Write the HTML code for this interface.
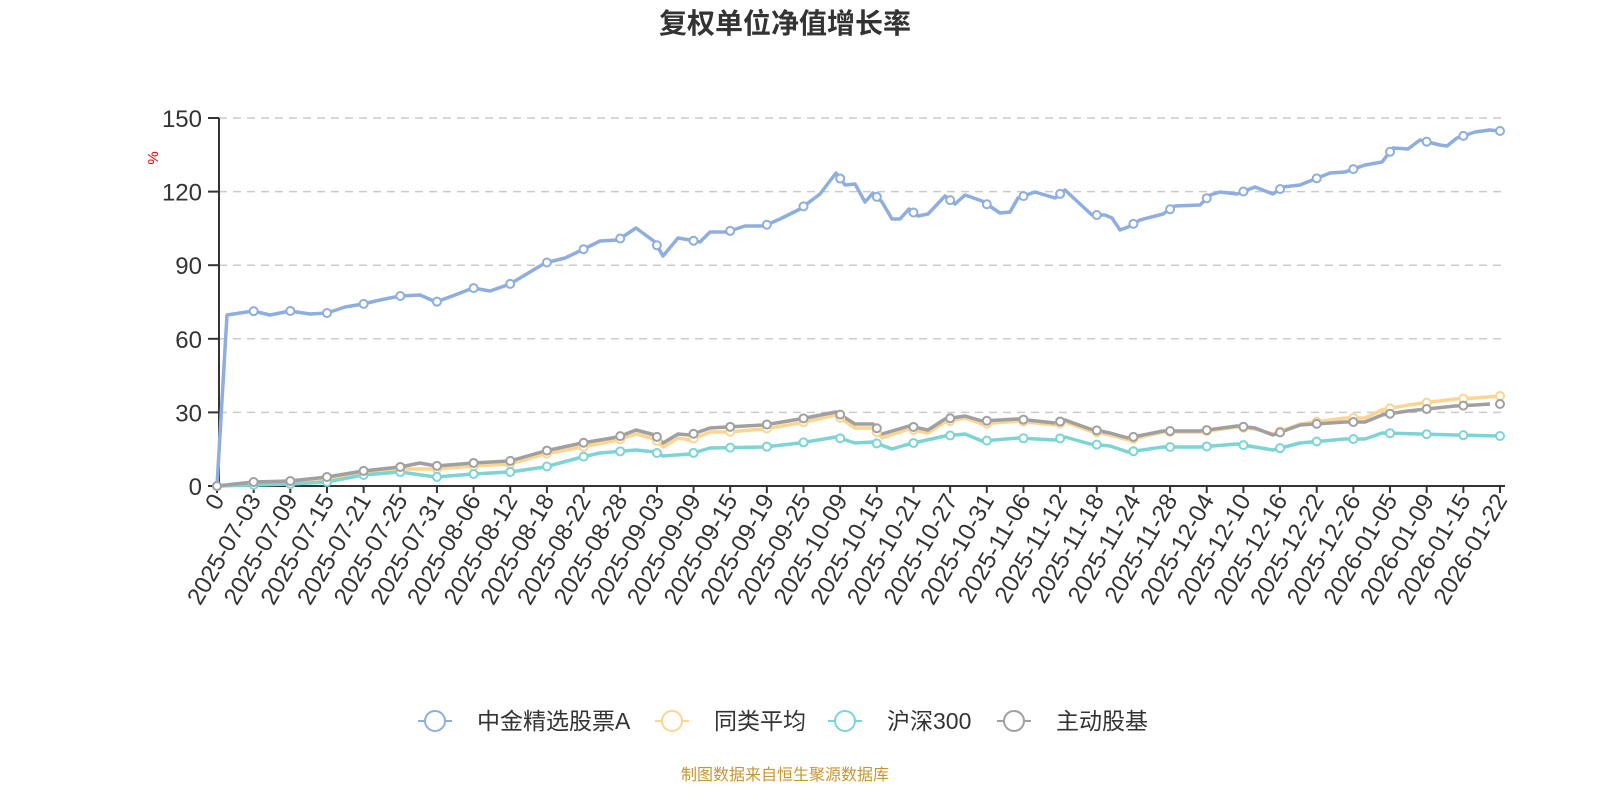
<!DOCTYPE html>
<html><head><meta charset="utf-8"><style>
html,body{margin:0;padding:0;background:#fff;}
svg text{font-family:"Liberation Sans","Noto Sans CJK SC",sans-serif;}
</style></head><body>
<svg id="s" width="1600" height="800" xmlns="http://www.w3.org/2000/svg">
<text x="785" y="33" text-anchor="middle" font-size="28" font-weight="bold" fill="#333">复权单位净值增长率</text>
<text transform="translate(158,158) rotate(-90)" text-anchor="middle" font-size="15" fill="#e00">%</text>
<g id="grid"></g>
<g id="lines"></g>
<g id="legend" font-size="23" fill="#333"></g>
<text x="785" y="780" text-anchor="middle" font-size="16" fill="#c8962e">制图数据来自恒生聚源数据库</text>
</svg>
<script>
const NS="http://www.w3.org/2000/svg";
function el(t,a,p,txt){const e=document.createElementNS(NS,t);for(const k in a)e.setAttribute(k,a[k]);if(txt!==undefined)e.textContent=txt;p.appendChild(e);return e;}
const g=document.getElementById('grid');
const X0=219,X1=1505,Y0=486,Y150=118;
for(let i=0;i<=5;i++){const y=Y0-(Y0-Y150)*i/5;
 if(i>0)el('line',{x1:X0,x2:X1,y1:y,y2:y,stroke:'#ccc','stroke-width':1.5,'stroke-dasharray':'8,6'},g);
 el('line',{x1:208,x2:X0,y1:y,y2:y,stroke:'#333','stroke-width':2},g);
 el('text',{x:202,y:y+9,'text-anchor':'end','font-size':24,fill:'#333'},g,String(i*30));}
el('line',{x1:X0,x2:X0,y1:Y150,y2:Y0,stroke:'#333','stroke-width':2},g);
el('line',{x1:X0,x2:X1,y1:Y0,y2:Y0,stroke:'#333','stroke-width':2},g);
const labs=["0","2025-07-03","2025-07-09","2025-07-15","2025-07-21","2025-07-25","2025-07-31","2025-08-06","2025-08-12","2025-08-18","2025-08-22","2025-08-28","2025-09-03","2025-09-09","2025-09-15","2025-09-19","2025-09-25","2025-10-09","2025-10-15","2025-10-21","2025-10-27","2025-10-31","2025-11-06","2025-11-12","2025-11-18","2025-11-24","2025-11-28","2025-12-04","2025-12-10","2025-12-16","2025-12-22","2025-12-26","2026-01-05","2026-01-09","2026-01-15","2026-01-22"];
const lx=[];
labs.forEach((l,i)=>{const x=217+i*(1500-217)/35;lx.push(x);
 el('line',{x1:x,x2:x,y1:Y0,y2:Y0+7,stroke:'#333','stroke-width':2},g);
 el('text',{transform:`translate(${x+8},${Y0+14}) rotate(-60)`,'text-anchor':'end','font-size':24,fill:'#333'},g,l);});
const S=[
 ['#8eaee0',[217,486,227,315,253,311,270,315,290,311,310,314,327,313,345,307,363,304,380,300,400,296,420,295,436,302,455,295,473,288,490,291,510,284,520,278,545,263,565,258,582,250,600,241,618,240,636,228,655,242,663,256,678,238,690,240,700,242,710,232,727,232,745,226,764,226,780,219,800,209,820,194,836,173,845,185,855,184,865,202,873,193,882,202,892,219,900,219,909,209,918,216,928,214,945,196,955,204,965,195,982,201,1000,213,1010,212,1018,198,1035,192,1055,198,1065,190,1080,204,1092,215,1105,215,1112,218,1120,230,1128,227,1140,220,1163,214,1175,206,1200,205,1210,195,1220,192,1237,194,1255,187,1273,194,1283,187,1300,185,1310,181,1330,173,1345,172,1365,165,1382,162,1393,148,1408,149,1420,140,1440,145,1447,146,1457,138,1475,132,1490,130,1500,131]],
 ['#fdd592',[217,486,253,483,290,482,327,479,363,473,400,469,436,469,473,466,510,464,545,454,582,447,618,440,636,434,655,439,663,447,678,438,690,440,710,432,727,432,764,429,800,423,836,415,855,428,873,428,882,438,909,429,928,433,945,422,965,418,982,424,1018,421,1055,425,1065,422,1090,431,1110,435,1128,440,1163,432,1200,432,1237,427,1255,429,1273,434,1300,424,1345,418,1365,418,1382,410,1408,405,1455,399,1475,398,1500,396]],
 ['#7dd4d4',[217,486,253,485,290,484,327,482,363,475,400,472,436,477,473,474,510,472,545,467,582,457,600,453,636,450,655,452,663,456,690,454,710,448,764,447,800,443,836,437,855,443,873,442,892,449,909,444,945,436,965,434,982,441,1018,438,1055,440,1065,437,1090,444,1110,446,1128,452,1163,447,1200,447,1237,444,1273,450,1300,443,1345,439,1365,439,1382,433,1420,434,1455,435,1500,436]],
 ['#a0a0a0',[217,486,253,482,290,481,327,477,363,471,400,467,420,463,436,466,473,463,510,461,545,451,582,443,618,437,636,430,655,435,663,443,678,434,690,435,710,428,727,427,764,425,800,419,836,412,855,424,873,424,882,434,909,426,928,430,945,419,965,416,982,421,1018,419,1055,423,1065,420,1090,429,1110,433,1128,438,1163,431,1200,431,1237,426,1255,428,1273,435,1300,425,1345,422,1365,422,1382,415,1408,411,1455,406,1475,405,1490,404]]
];
const L=document.getElementById('lines');
function interp(p,x){for(let i=0;i<p.length-2;i+=2){if(x<=p[i+2])return p[i+1]+(p[i+3]-p[i+1])*(x-p[i])/(p[i+2]-p[i]||1);}return p[p.length-1];}
S.forEach(([c,p])=>{let pts=[];for(let i=0;i<p.length;i+=2)pts.push(p[i]+','+p[i+1]);
 el('polyline',{points:pts.join(' '),fill:'none',stroke:c,'stroke-width':3.5,'stroke-linejoin':'round'},L);});
S.forEach(([c,p])=>{lx.forEach(x=>{el('circle',{cx:x,cy:interp(p,x),r:4,fill:'#fff',stroke:c,'stroke-width':2},L);});});
const lg=document.getElementById('legend');
const items=[['#8eaee0','中金精选股票A',418],['#fdd592','同类平均',655],['#7dd4d4','沪深300',828],['#a0a0a0','主动股基',997]];
items.forEach(([c,t,x])=>{el('line',{x1:x,x2:x+34,y1:721,y2:721,stroke:c,'stroke-width':2},lg);
 el('circle',{cx:x+17,cy:721,r:10,fill:'#fff',stroke:c,'stroke-width':2},lg);
 el('text',{x:x+59,y:729},lg,t);});
</script>
</body></html>
